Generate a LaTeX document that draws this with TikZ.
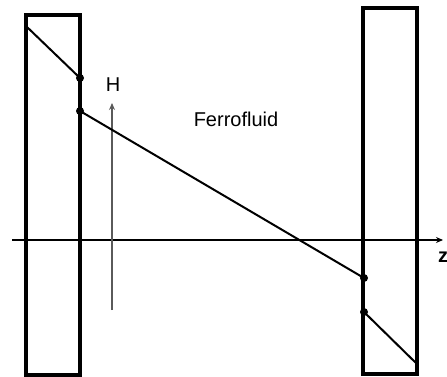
\documentclass[tikz,border=0pt]{standalone}
\usepackage{fontspec}
\setmainfont{Liberation Sans}
\usepackage{tikz}
\usetikzlibrary{arrows.meta,positioning}
\definecolor{fieldGray}{RGB}{90, 90, 90}

\begin{document}
\begin{tikzpicture}[x=1pt,y=-1pt,
        plate/.style={draw=black,line width=3.2pt,minimum width=54pt,inner sep=0pt},
        dot/.style={circle,fill=black,minimum size=8pt,inner sep=0pt},
        profile/.style={draw=black,line width=2pt},
        label/.style={font=\fontsize{20}{22}\selectfont,inner sep=0pt}
    ]
        \useasboundingbox (0,0) rectangle (447,377);

        % z axis
        \coordinate (zstart) at (12,240);
        \coordinate (zend) at (443,240);
        \draw[line width=2pt,-{Stealth[length=7pt,width=6pt]}] (zstart) -- (zend);
        \node[label,font=\bfseries\fontsize{20}{22}\selectfont] (z) at (443,257) {z};

        % plates
        \node[plate,minimum height=360pt] (lplate) at (53,195) {};
        \node[plate,minimum height=366pt] (rplate) at (390,191) {};

        % field
        \coordinate (hbot) at (112,310);
        \coordinate (htop) at (112,103);
        \draw[fieldGray,line width=2pt,-{Stealth[length=7pt,width=6pt]}] (hbot) -- (htop);
        \node[label] (H) at (113,85) {H};
        \node[label] (fluid) at (236,119) {Ferrofluid};

        % profile
        \coordinate (p0) at (27,27);
        \node[dot] (a1) at (80,78) {};
        \node[dot] (a2) at (80,111) {};
        \node[dot] (b1) at (364,278) {};
        \node[dot] (b2) at (364,312) {};
        \coordinate (p1) at (417,364);
        \draw[profile] (p0) -- (a1.center);
        \draw[profile] (a2.center) -- (b1.center);
        \draw[profile] (b2.center) -- (p1);

\end{tikzpicture}
\end{document}
